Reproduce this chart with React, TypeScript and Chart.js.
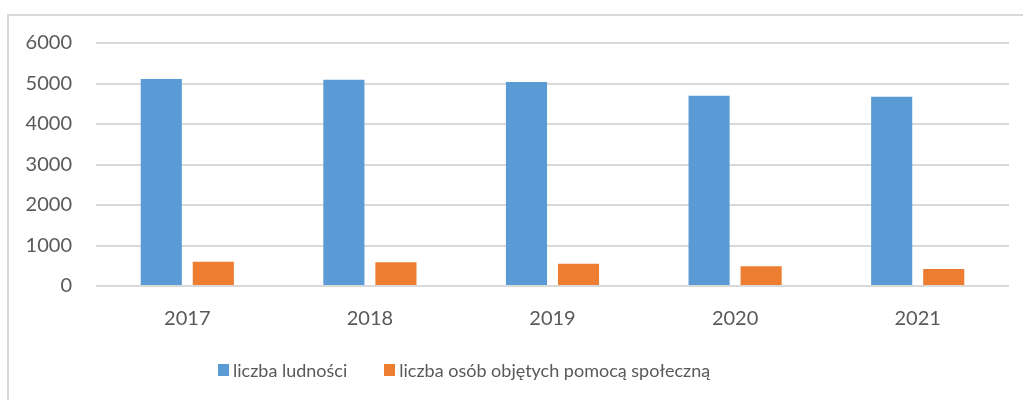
import React, { useEffect, useRef } from "react";
import { Chart, registerables } from "chart.js";

Chart.register(...registerables);

const categories = ["2017", "2018", "2019", "2020", "2021"];
const seriesPopulation = [5110, 5090, 5040, 4700, 4670];
const seriesAid = [600, 585, 550, 490, 420];
const seriesNames = ["liczba ludności", "liczba osób objętych pomocą społeczną"];
const seriesColors = ["#5B9BD5", "#ED7D31"];
const yTicks = [0, 1000, 2000, 3000, 4000, 5000, 6000];

const FONT = "Lato, 'Open Sans', sans-serif";
const TEXT = "#595959";

export default function App() {
  const ref = useRef<HTMLCanvasElement | null>(null);

  useEffect(() => {
    document.body.style.overflow = "hidden";
    const ctx = ref.current;
    if (!ctx) return;
    const chart = new Chart(ctx, {
      type: "bar",
      data: {
        labels: categories,
        datasets: [
          {
            label: seriesNames[0],
            data: seriesPopulation,
            backgroundColor: seriesColors[0],
            categoryPercentage: 0.57,
            barPercentage: 0.79,
          },
          {
            label: seriesNames[1],
            data: seriesAid,
            backgroundColor: seriesColors[1],
            categoryPercentage: 0.57,
            barPercentage: 0.79,
          },
        ],
      },
      options: {
        responsive: true,
        maintainAspectRatio: false,
        animation: false,
        layout: { padding: { top: 43, right: 14, left: 0, bottom: 54 } },
        plugins: {
          legend: { display: false },
          tooltip: { enabled: false },
        },
        scales: {
          x: {
            grid: { display: false },
            border: { display: false },
            ticks: {
              color: TEXT,
              font: { family: FONT, size: 20 },
              padding: 13,
            },
            afterFit: (s: any) => {
              s.height = 60;
            },
          },
          y: {
            min: 0,
            max: 6000,
            afterBuildTicks: (s: any) => {
              s.ticks = yTicks.map((v) => ({ value: v }));
            },
            grid: { color: "#D9D9D9", lineWidth: 2, drawTicks: false },
            border: { display: false },
            ticks: {
              color: TEXT,
              font: { family: FONT, size: 20 },
              padding: 24,
              callback: (v: any) => String(v),
            },
            afterFit: (s: any) => {
              s.width = 96;
            },
          },
        },
      },
    });
    return () => chart.destroy();
  }, []);

  return (
    <div style={{ position: "absolute", left: 0, top: 0, width: 1023, height: 400, background: "#fff", overflow: "hidden" }}>
      <div
        style={{
          position: "absolute",
          left: 7,
          top: 14,
          width: 1016,
          height: 386,
          borderLeft: "2px solid #D9D9D9",
          borderTop: "2px solid #D9D9D9",
          boxSizing: "border-box",
        }}
      />
      <div style={{ position: "absolute", left: 0, top: 0, width: 1023, height: 400 }}>
        <canvas ref={ref} />
      </div>
      <div
        style={{
          position: "absolute",
          left: 218,
          top: 357,
          display: "flex",
          alignItems: "center",
          fontFamily: FONT,
          fontSize: 18,
          color: TEXT,
          lineHeight: "26px",
          whiteSpace: "nowrap",
        }}
      >
        {seriesNames.map((n, i) => (
          <div key={n} style={{ display: "flex", alignItems: "center", marginRight: i === 0 ? 37 : 0 }}>
            <span style={{ display: "inline-block", width: 11, height: 12, background: seriesColors[i], marginRight: 4 }} />
            <span>{n}</span>
          </div>
        ))}
      </div>
    </div>
  );
}
